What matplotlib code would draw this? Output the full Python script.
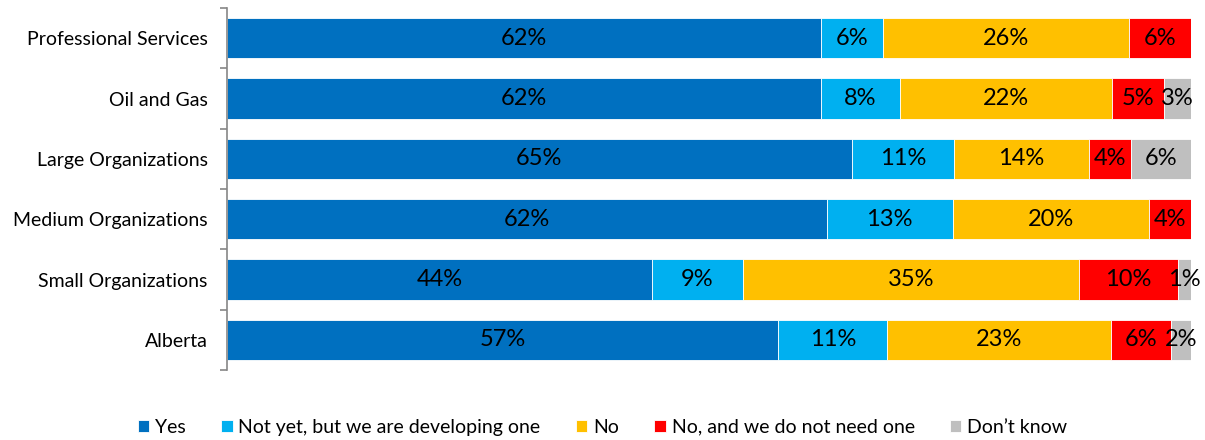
import numpy as np
import matplotlib.pyplot as plt
from matplotlib.ticker import FixedLocator

plt.rcParams['font.family'] = ['Lato', 'DejaVu Sans']

groups = ["Professional Services", "Oil and Gas", "Large Organizations",
          "Medium Organizations", "Small Organizations", "Alberta"]
responses = ["Yes", "Not yet, but we are developing one", "No",
             "No, and we do not need one", "Don\u2019t know"]

# share of respondents (%) per group, one list per response
yes = [61.6, 61.6, 64.8, 62.2, 44.1, 57.2]
not_yet = [6.4, 8.2, 10.6, 13.1, 9.4, 11.3]
no = [25.6, 22.0, 14.0, 20.3, 34.9, 23.2]
no_need = [6.4, 5.4, 4.4, 4.4, 10.2, 6.2]
dont_know = [0.0, 2.8, 6.2, 0.0, 1.4, 2.1]

colors = ["#0070C0", "#00B0F0", "#FFC000", "#FF0000", "#BFBFBF"]

fig = plt.figure(figsize=(12.05, 4.4), dpi=100)
ax = fig.add_axes([227 / 1205, 1 - 370 / 440, 964 / 1205, 362 / 440])

y = np.arange(len(groups))
left = np.zeros(len(groups))
for name, vals, c in zip(responses, [yes, not_yet, no, no_need, dont_know], colors):
    vals = np.array(vals)
    bars = ax.barh(y, vals, left=left, height=0.667, color=c, label=name,
                   edgecolor="white", linewidth=0.6)
    for b, v, l in zip(bars, vals, left):
        if v > 0:
            ax.text(l + v / 2, b.get_y() + b.get_height() / 2, f"{v:.0f}%",
                    ha="center", va="center", fontsize=17, color="black")
    left += vals

ax.set_xlim(0, 100)
ax.set_ylim(len(groups) - 0.5, -0.5)
ax.set_yticks(y)
ax.set_yticklabels(groups, fontsize=14)
ax.yaxis.set_minor_locator(FixedLocator(np.arange(-0.5, len(groups), 1)))
ax.tick_params(axis="y", which="major", length=0, pad=14)
ax.tick_params(axis="y", which="minor", length=5, color="#868686", width=1.2)
ax.xaxis.set_visible(False)
for s in ["top", "right", "bottom"]:
    ax.spines[s].set_visible(False)
ax.spines["left"].set_color("#868686")
ax.spines["left"].set_linewidth(1.2)

fig.legend(loc="lower center", bbox_to_anchor=(0.5, -0.03), ncol=5,
           frameon=False, fontsize=14, handlelength=0.6, handleheight=0.6,
           handletextpad=0.3, columnspacing=1.8)

fig.savefig("out.png", dpi=100)
